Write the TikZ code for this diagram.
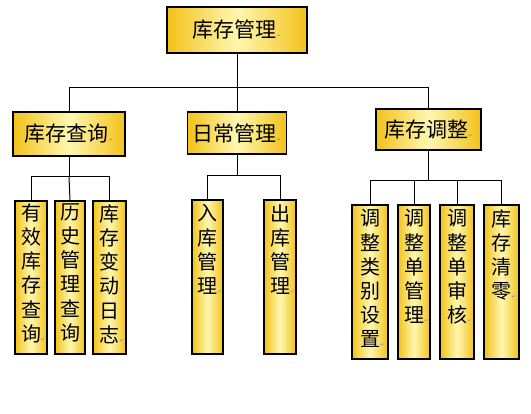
\documentclass[tikz,border=0pt]{standalone}
\usepackage{fontspec}
\newfontfamily\cjk{Noto Sans CJK SC}
\newfontfamily\symf{DejaVu Sans}
\newcommand{\parmark}{{\symf\fontsize{5}{5}\selectfont\color{parmarkc}↵}}
\definecolor{goldc}{HTML}{F2C21A}
\definecolor{lightc}{HTML}{FFF7B0}
\definecolor{parmarkc}{HTML}{8088A8}
\begin{document}
\begin{tikzpicture}[x=1pt,y=-1pt,
  hbox/.style={draw=black,line width=1.3pt,shade,left color=goldc,right color=goldc,middle color=lightc,inner sep=0pt},
  htext/.style={font=\cjk\fontsize{21}{21}\selectfont,inner sep=0pt},
  vtext/.style={font=\cjk\fontsize{20}{24.2}\selectfont,inner sep=0pt,align=center,anchor=north},
  conn/.style={line width=1pt,draw=black}]
\useasboundingbox (0,0) rectangle (531,414);
% boxes
\node[hbox,minimum width=140pt,minimum height=46pt] (top) at (237,30) {};
\node[hbox,minimum width=112pt,minimum height=44pt] (q) at (69,134) {};
\node[hbox,minimum width=99pt,minimum height=42pt] (d) at (237,133) {};
\node[hbox,minimum width=105pt,minimum height=41pt] (t) at (428.5,129.5) {};
\node[htext] (topt) at (top.center) {库存管理\parmark};
\node[htext] (qt) at (q.center) {库存查询\parmark};
\node[htext] (dt) at (d.center) {日常管理\parmark};
\node[htext] (tt) at (t.center) {库存调整\parmark};
% vertical boxes
\node[hbox,minimum width=32pt,minimum height=153pt] (q1) at (31,277.5) {};
\node[hbox,minimum width=30pt,minimum height=153pt] (q2) at (70,277.5) {};
\node[hbox,minimum width=33pt,minimum height=153pt] (q3) at (109.5,277.5) {};
\node[hbox,minimum width=31pt,minimum height=154pt] (d1) at (207.5,277) {};
\node[hbox,minimum width=32pt,minimum height=154pt] (d2) at (280,277) {};
\node[hbox,minimum width=36pt,minimum height=154pt] (t1) at (370,282) {};
\node[hbox,minimum width=32pt,minimum height=154pt] (t2) at (414,282) {};
\node[hbox,minimum width=34pt,minimum height=154pt] (t3) at (457,282) {};
\node[hbox,minimum width=35pt,minimum height=154pt] (t4) at (501.5,282) {};
\node[vtext] (q1t) at ([yshift=-3pt]q1.north) {有\\效\\库\\存\\查\\询\rlap{\parmark}};
\node[vtext] (q2t) at ([yshift=-3pt]q2.north) {历\\史\\管\\理\\查\\询};
\node[vtext] (q3t) at ([yshift=-4pt]q3.north) {库\\存\\变\\动\\日\\志\rlap{\parmark}};
\node[vtext] (d1t) at ([yshift=-5pt]d1.north) {入\\库\\管\\理\rlap{\parmark}};
\node[vtext] (d2t) at ([yshift=-5pt]d2.north) {出\\库\\管\\理\rlap{\parmark}};
\node[vtext] (t1t) at ([yshift=-5pt]t1.north) {调\\整\\类\\别\\设\\置\rlap{\parmark}};
\node[vtext] (t2t) at ([yshift=-5pt]t2.north) {调\\整\\单\\管\\理\rlap{\parmark}};
\node[vtext] (t3t) at ([yshift=-5pt]t3.north) {调\\整\\单\\审\\核\rlap{\parmark}};
\node[vtext] (t4t) at ([yshift=-5pt]t4.north) {库\\存\\清\\零\rlap{\parmark}};
% buses
\coordinate (b0) at (237,88);
\coordinate (bq) at (69,177);
\coordinate (bd) at (237,176);
\coordinate (bt) at (428.5,181);
\draw[conn] (top.south) -- (b0);
\draw[conn] (b0) -| (q.north);
\draw[conn] (b0) -| (t.north);
\draw[conn] (b0) -- (d.north);
\draw[conn] (q.south) -- (bq);
\draw[conn] (bq) -| (q1.north);
\draw[conn] (bq) -- (q2.north);
\draw[conn] (bq) -| (q3.north);
\draw[conn] (d.south) -- (bd);
\draw[conn] (bd) -| (d1.north);
\draw[conn] (bd) -| (d2.north);
\draw[conn] (t.south) -- (bt);
\draw[conn] (bt) -| (t1.north);
\draw[conn] (bt) -| (t2.north);
\draw[conn] (bt) -| (t3.north);
\draw[conn] (bt) -| (t4.north);
\end{tikzpicture}
\end{document}
